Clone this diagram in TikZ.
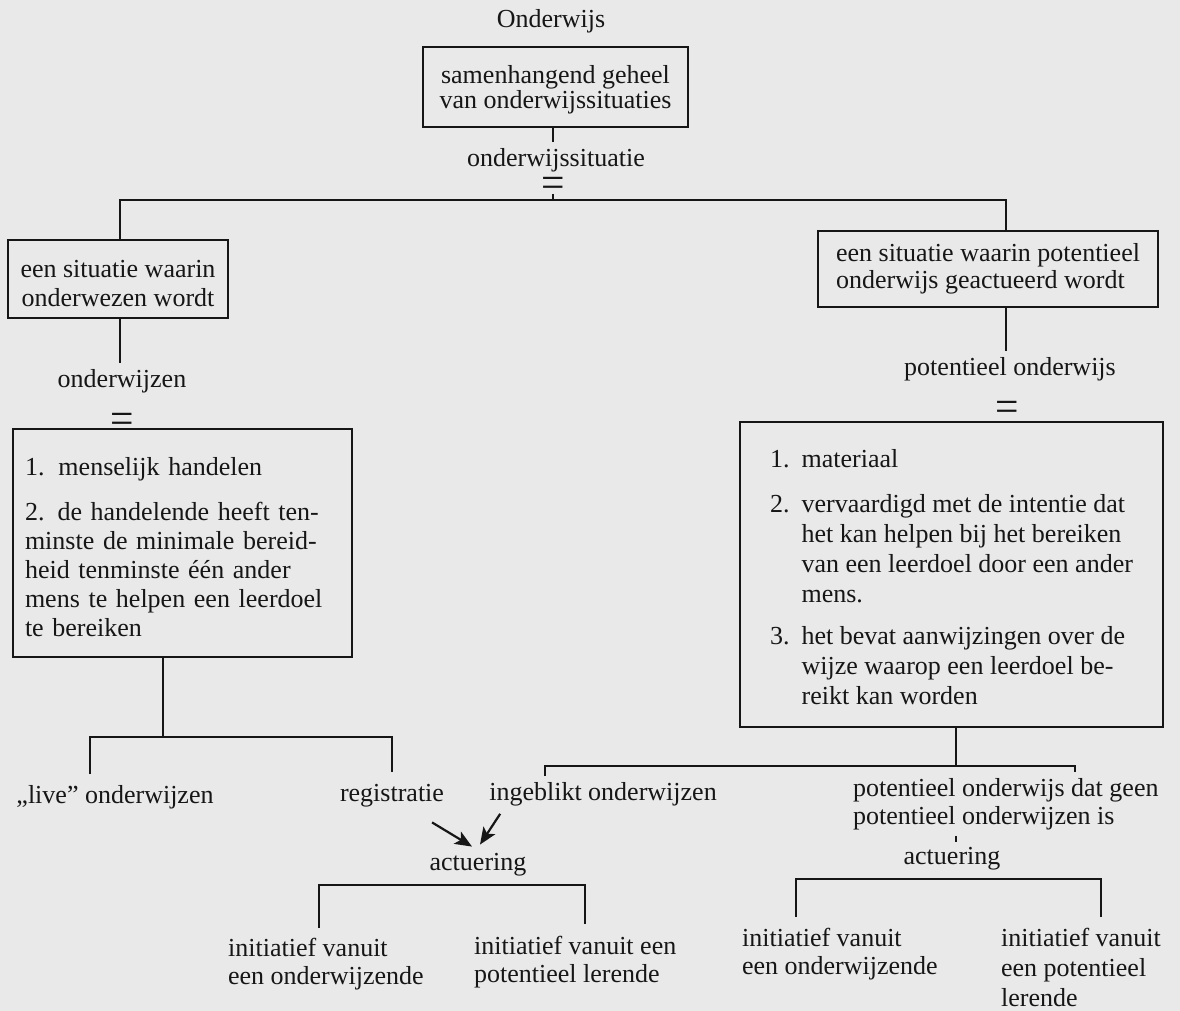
\documentclass[tikz,border=0pt]{standalone}
\usepackage{fontspec}
\setmainfont{Liberation Serif}
\usetikzlibrary{arrows.meta,calc}
\definecolor{paper}{RGB}{233,233,233}
\definecolor{ink}{RGB}{22,22,22}
\newcommand{\eqbar}{\scalebox{1.6}[1.7]{\raisebox{-0.15em}[0.22em][0pt]{=}}}
\begin{document}
\begin{tikzpicture}[x=1pt,y=-1pt,line width=2.2pt,draw=ink,
  every node/.style={font=\fontsize{26}{29}\selectfont,text=ink,inner sep=2pt},
  box/.style={draw=ink,line width=2.2pt,inner sep=0pt},
  lbl/.style={outer ysep=4pt},
  eqsign/.style={inner sep=1pt},
  arr/.style={-{Stealth[length=17pt,width=14pt,inset=4pt]},line width=2.2pt}]
\fill[paper] (0,0) rectangle (1180,1011);
\useasboundingbox (0,0) rectangle (1180,1011);

% top
\node (title) at (551,21) {Onderwijs};
\node[box,minimum width=265,minimum height=80,align=center,
  font=\fontsize{26}{25}\selectfont] (b1) at (555.5,87) {\rule{0pt}{24pt}samenhangend geheel\\van onderwijssituaties};
\node[lbl] (t1) at (556,160) {onderwijssituatie};
\node[eqsign] (eq1) at (553,186) {\eqbar};
\draw (b1.south -| eq1) -- (t1.north -| eq1);

\coordinate (j1) at (553,200);
\coordinate (jl) at (120,200);
\coordinate (jr) at (1006,200);
\draw ([yshift=-1pt]eq1.south) -- (j1);

% second level
\node[box,minimum width=220,minimum height=78,align=center] (L1) at (118,279) {\rule{0pt}{25.5pt}een situatie waarin\\onderwezen wordt};
\node[box,minimum width=340,minimum height=76,align=left,
  font=\fontsize{26}{27}\selectfont] (R1) at (988,269) {een situatie waarin potentieel\\onderwijs geactueerd wordt};
\draw (L1.north -| jl) -- (jl) -- (jr) -- (R1.north -| jr);

% left column
\node[lbl] (t2) at (122,381) {onderwijzen};
\draw (L1.south -| jl) -- (t2.north -| jl);
\node[eqsign] (eq2) at (122,422) {\eqbar};
\node[box,minimum width=339,minimum height=228,align=left,text width=315] (L2) at (182.5,543)
  {\rule{0pt}{26pt}1.\hspace{14pt}menselijk handelen\\[16pt]2. de handelende heeft ten-\\minste de minimale bereid-\\heid tenminste één ander\\mens te helpen een leerdoel\\te bereiken};

% right column
\node[lbl] (t5) at (1010,369) {potentieel onderwijs};
\draw (R1.south -| jr) -- (t5.north -| jr);
\node[eqsign] (eq3) at (1007,410) {\eqbar};
\node[box,minimum width=423,minimum height=305,font=\fontsize{26}{30}\selectfont] (R2) at (951.5,574.5)
  {\begin{tabular}{@{}l@{\hspace{12pt}}l@{}}
   \rule{0pt}{31pt}1. & materiaal\\[15pt]
   2. & vervaardigd met de intentie dat\\
      & het kan helpen bij het bereiken\\
      & van een leerdoel door een ander\\
      & mens.\\[12pt]
   3. & het bevat aanwijzingen over de\\
      & wijze waarop een leerdoel be-\\
      & reikt kan worden
   \end{tabular}};

% lower left
\node[lbl,outer ysep=9pt] (t3) at (115,797) {„live” onderwijzen};
\node[lbl,outer ysep=11pt] (t4) at (392,796) {registratie};
\coordinate (jL) at (163,737);
\coordinate (jLa) at (90,737);
\coordinate (jLb) at (392,737);
\draw (L2.south -| jL) -- (jL);
\draw (t3.north -| jLa) -- (jLa) -- (jLb) -- (t4.north -| jLb);

% lower right
\node[lbl] (t6) at (603,794) {ingeblikt onderwijzen};
\node[lbl,anchor=west,align=left,font=\fontsize{26}{28}\selectfont] (t7) at (850,804)
  {potentieel onderwijs dat geen\\potentieel onderwijzen is};
\coordinate (jR) at (956,766);
\coordinate (jRa) at (545,766);
\coordinate (jRb) at (1075,766);
\draw (R2.south -| jR) -- (jR);
\draw (t6.north -| jRa) -- (jRa) -- (jRb) -- (t7.north -| jRb);

% actuering (left)
\node[lbl] (t9) at (478,865) {actuering};
\draw[arr] ([xshift=-15pt,yshift=-2pt]t4.south east) -- ([xshift=-6pt,yshift=1pt]t9.north);
\draw[arr] ([xshift=14pt,yshift=-2pt]t6.south west) -- ([xshift=2pt,yshift=3pt]t9.north);
\node[lbl,anchor=west,align=left,outer ysep=8pt,font=\fontsize{26}{28}\selectfont] (t10) at (225,964)
  {initiatief vanuit\\een onderwijzende};
\node[lbl,anchor=west,align=left,outer ysep=10pt,font=\fontsize{26}{28}\selectfont] (t11) at (471,962)
  {initiatief vanuit een\\potentieel lerende};
\coordinate (ja) at (319,885);
\coordinate (jb) at (585,885);
\draw (t10.north -| ja) -- (ja) -- (jb) -- (t11.north -| jb);

% actuering (right)
\node[lbl] (t8) at (952,859) {actuering};
\draw (t7.south -| jR) -- (t8.north -| jR);
\node[lbl,anchor=west,align=left,outer ysep=9pt,font=\fontsize{26}{28.5}\selectfont] (t12) at (739,954)
  {initiatief vanuit\\een onderwijzende};
\node[lbl,anchor=west,align=left,outer ysep=9pt,font=\fontsize{26}{30}\selectfont] (t13) at (998,967)
  {initiatief vanuit\\een potentieel\\lerende};
\coordinate (jc) at (796,879);
\coordinate (jd) at (1101,879);
\draw (t12.north -| jc) -- (jc) -- (jd) -- (t13.north -| jd);
\end{tikzpicture}
\end{document}
